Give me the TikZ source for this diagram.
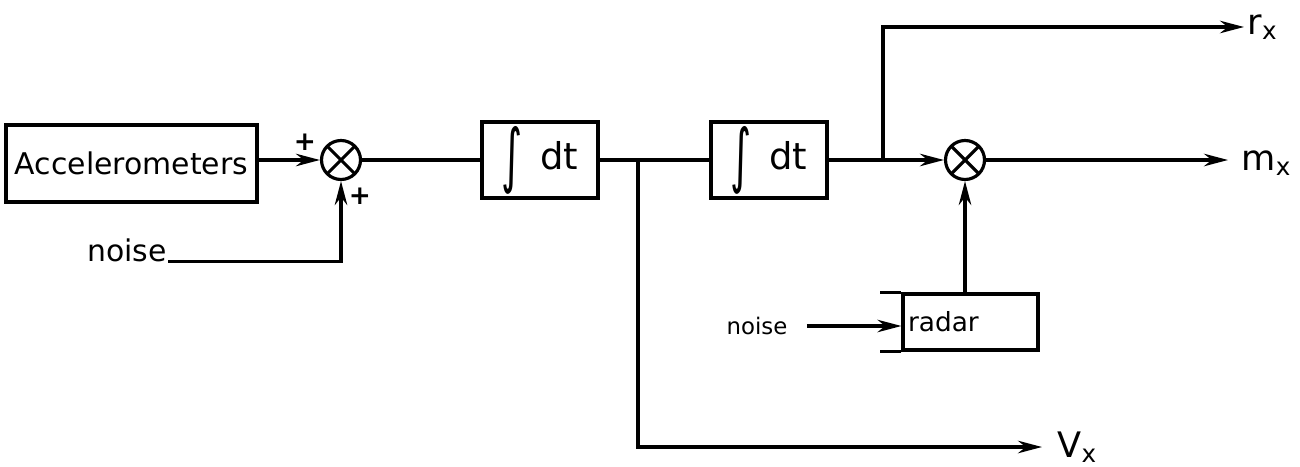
\documentclass[tikz,border=0pt]{standalone}
\usepackage{fontspec}
\usepackage{graphicx}
\setmainfont{DejaVu Sans}
\usetikzlibrary{arrows.meta}
\newcommand{\bigint}{\raisebox{-0.25em}{\scalebox{1.1}[1.9]{∫}}}
\begin{document}
\begin{tikzpicture}[x=0.02cm,y=-0.02cm,
  line width=1.8pt,
  blk/.style={draw, rectangle, inner sep=0pt, font=\fontsize{17}{19}\selectfont},
  mult/.style={draw, circle, minimum size=0.78cm, inner sep=0pt,
    path picture={\draw (path picture bounding box.south west) -- (path picture bounding box.north east)
      (path picture bounding box.north west) -- (path picture bounding box.south east);}},
  arr/.style={-{Stealth[length=4.8mm,width=2.5mm]}},
  lbl/.style={font=\fontsize{17}{19}\selectfont, inner sep=0pt},
  outlbl/.style={font=\fontsize{20}{22}\selectfont, inner sep=0pt},
  sml/.style={font=\fontsize{13}{15}\selectfont, inner sep=0pt},
  pls/.style={font=\bfseries\fontsize{15}{17}\selectfont, inner sep=0pt}
]
\useasboundingbox (0,0) rectangle (1300,466);
% blocks
\node[blk, minimum width=5.02cm, minimum height=1.54cm] (acc) at (131.5,163.5) {Accelerometers};
\node[mult] (s1) at (341,160) {};
\node[blk, minimum width=2.32cm, minimum height=1.52cm, font=\fontsize{21}{23}\selectfont] (int1) at (540,160) {\bigint\hspace{0.35cm}dt};
\node[blk, minimum width=2.32cm, minimum height=1.52cm, font=\fontsize{21}{23}\selectfont] (int2) at (769,160) {\bigint\hspace{0.35cm}dt};
\node[mult] (s2) at (965,160) {};
\node[blk, text width=2.5cm, inner xsep=0.1cm, minimum height=1.12cm, align=left, font=\fontsize{15}{17}\selectfont] (radar) at (970.5,322) {radar};
% labels
\node[lbl] (noise1) at (127,250) {noise};
\node[sml] (noise2) at (757,326) {noise};
\node[pls] (p1) at (305,142) {+};
\node[pls] (p2) at (360,196) {+};
\node[outlbl, anchor=west] (rx) at (1246,27) {r\textsubscript{x}};
\node[outlbl, anchor=west] (mx) at (1240,163) {m\textsubscript{x}};
\node[outlbl, anchor=west] (vx) at (1056,447) {V\textsubscript{x}};
% branch points
\coordinate (b1) at (638,160);
\coordinate (b2) at (883,160);
% connectors
\draw[arr] (acc.east|-s1) -- (s1.west);
\draw[arr] (noise1.base east) -- (noise1.base east -| s1) -- (s1.south);
\draw (s1.east) -- (int1.west);
\draw (int1.east) -- (int2.west);
\draw[arr] (int2.east) -- (s2.west);
\draw[arr, shorten >=12*0.02cm] (s2.east) -- (mx.west|-s2);
\draw[arr, shorten >=2*0.02cm] (b2) |- (rx.west);
\draw[arr, shorten >=14*0.02cm] (b1) |- (vx.west);
\draw[arr] (radar.north -| s2) -- (s2.south);
\draw[arr, shorten <=18*0.02cm] (noise2.east) -- (radar.west|-noise2.east);
\draw (radar.north west) -- ++(-21,0);
\draw (radar.south west) -- ++(-21,0);
\end{tikzpicture}
\end{document}
